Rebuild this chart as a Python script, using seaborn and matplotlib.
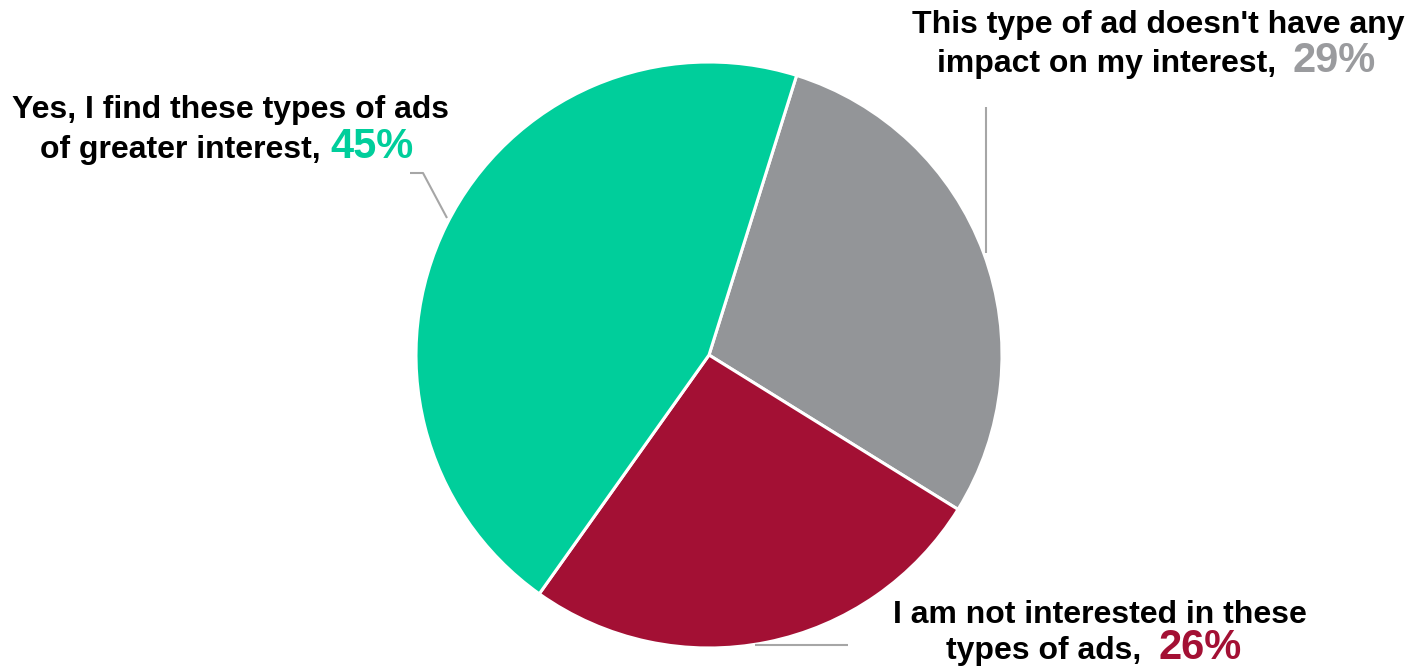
import matplotlib
matplotlib.use("Agg")
import matplotlib.pyplot as plt
import seaborn as sns

# Survey answers and their shares (%)
answers = [
    "This type of ad doesn't have any\nimpact on my interest,",
    "I am not interested in these\ntypes of ads,",
    "Yes, I find these types of ads\nof greater interest,",
]
shares = [29, 26, 45]
slice_colors = ["#939598", "#A31034", "#00CE9B"]
pct_colors = ["#9A9B9E", "#A31034", "#00CE9B"]

sns.set_theme(style="white")
plt.rcParams["font.family"] = ["Liberation Sans", "DejaVu Sans"]

W, H = 1407, 668
fig = plt.figure(figsize=(W / 100, H / 100), dpi=100)
ax = fig.add_axes([0, 0, 1, 1])

cx, cy, r = 709, H - 355, 293
ax.pie(
    shares,
    colors=slice_colors,
    startangle=72.6,
    counterclock=False,
    center=(cx, cy),
    radius=r,
    wedgeprops=dict(edgecolor="white", linewidth=2.2),
    frame=True,
)
ax.set_xlim(0, W)
ax.set_ylim(0, H)
ax.set_aspect("equal")
ax.axis("off")

lead = dict(color="#A6A6A6", lw=1.5, solid_capstyle="butt")
# leader lines
ax.plot([986, 986], [H - 107, H - 253], **lead)
ax.plot([410, 423, 447], [H - 173, H - 173, H - 218], **lead)
ax.plot([755, 848], [H - 645, H - 645], **lead)

txt = dict(fontsize=23, fontweight="bold", color="black", va="baseline")
pct = dict(fontsize=30, fontweight="bold", va="baseline")

def label(lines, pct_text, color, l1, l2, p):
    ax.text(l1[0], H - l1[1], lines[0], ha="center", **txt)
    ax.text(l2[0], H - l2[1], lines[1], ha="right", **txt)
    ax.text(p[0], H - p[1], pct_text, ha="left", color=color, **pct)

for ans, s, c, pos in zip(
    answers,
    shares,
    pct_colors,
    [
        ((1158, 33), (1276, 72), (1293, 72)),
        ((1100, 623), (1141, 659), (1158, 659)),
        ((230, 118), (321, 158), (330, 158)),
    ],
):
    label(ans.split("\n"), f"{s}%", c, *pos)

fig.savefig("out.png", dpi=100, facecolor="white")
